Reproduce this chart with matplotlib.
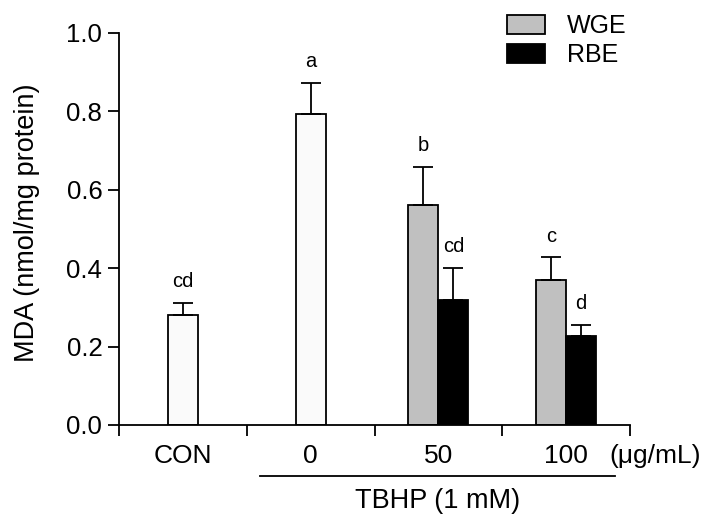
import matplotlib.pyplot as plt
from matplotlib.patches import Patch
import matplotlib.transforms as mtransforms

plt.rcParams['font.family'] = ['Liberation Sans', 'DejaVu Sans']

# data
groups = ['CON', '0', '50', '100']
single_mean = [0.281, 0.793]          # CON and TBHP only
single_err = [0.030, 0.080]
wge_mean = [0.561, 0.369]             # 50, 100 ug/mL
wge_err = [0.097, 0.058]
rbe_mean = [0.319, 0.227]
rbe_err = [0.082, 0.028]
single_letters = ['cd', 'a']
wge_letters = ['b', 'c']
rbe_letters = ['cd', 'd']
yticks = [0.0, 0.2, 0.4, 0.6, 0.8, 1.0]

fig = plt.figure(figsize=(7.18, 5.29), dpi=100)
ax = fig.add_axes([119 / 718, 104 / 529, 511 / 718, 392.3 / 529])

w = 0.234
ekw = dict(ecolor='black', elinewidth=1.3, capsize=7.5, capthick=1.3)

x1 = [0, 1]
ax.bar(x1, single_mean, width=w, color='#fafafa', edgecolor='black', linewidth=1.3,
       yerr=[[0, 0], single_err], error_kw=ekw, zorder=2)
x2 = [2 - w / 2, 3 - w / 2]
ax.bar(x2, wge_mean, width=w, color='#c0c0c0', edgecolor='black', linewidth=1.3,
       yerr=[[0, 0], wge_err], error_kw=ekw, zorder=2)
x3 = [2 + w / 2, 3 + w / 2]
ax.bar(x3, rbe_mean, width=w, color='black', edgecolor='black', linewidth=1.3,
       yerr=[[0, 0], rbe_err], error_kw=ekw, zorder=2)

for xs, ms, es, ls in [(x1, single_mean, single_err, single_letters),
                       (x2, wge_mean, wge_err, wge_letters),
                       (x3, rbe_mean, rbe_err, rbe_letters)]:
    for x, m, e, l in zip(xs, ms, es, ls):
        ax.text(x, m + e + 0.03, l, ha='center', va='bottom', fontsize=14.5)

ax.set_xlim(-0.5, 3.5)
ax.set_ylim(0, 1.0)
ax.set_yticks(yticks)
ax.set_yticklabels(['%.1f' % t for t in yticks], fontsize=18.5)
ax.tick_params(axis='y', direction='out', length=8, width=1.3, pad=4)

ax.set_xticks([-0.5, 0.5, 1.5, 2.5, 3.5])
ax.set_xticklabels([])
ax.set_xticks(range(len(groups)), minor=True)
ax.set_xticklabels(groups, minor=True, fontsize=19)
ax.tick_params(axis='x', which='major', direction='out', length=8, width=1.3)
ax.tick_params(axis='x', which='minor', length=0, pad=14)

for s in ['top', 'right']:
    ax.spines[s].set_visible(False)
for s in ['left', 'bottom']:
    ax.spines[s].set_linewidth(1.3)

trans = mtransforms.blended_transform_factory(ax.transData, ax.transAxes)
ax.text(3.5 + (655 - 630) / 128, -0.079, '(\u03bcg/mL)', transform=trans,
        ha='center', va='center', fontsize=19)
ax.plot([0.60, 3.38], [-0.130, -0.130], color='black', lw=1.3,
        transform=trans, clip_on=False)
ax.text((438 - 119) / 128 - 0.5, -0.194, 'TBHP (1 mM)', transform=trans,
        ha='center', va='center', fontsize=19.5)

fig.text(27.5 / 718, 1 - 223 / 529, 'MDA (nmol/mg protein)', rotation=90,
         ha='center', va='center', fontsize=19.5)

handles = [Patch(facecolor='#c0c0c0', edgecolor='black', linewidth=1.3),
           Patch(facecolor='black', edgecolor='black', linewidth=1.3)]
fig.legend(handles, ['WGE', 'RBE'], loc='upper left',
           bbox_to_anchor=(507 / 718, 1 - 14 / 529), frameon=False, fontsize=18,
           handlelength=1.5, handleheight=0.8, handletextpad=0.9,
           labelspacing=0.2, borderpad=0, borderaxespad=0)

fig.savefig('out.png', dpi=100)
